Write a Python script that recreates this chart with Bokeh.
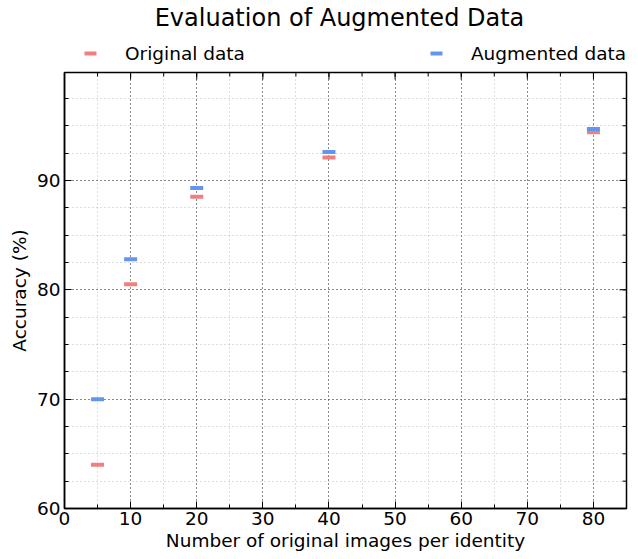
from bokeh.plotting import figure
from bokeh.models import (ColumnDataSource, FixedTicker, Range1d, Legend,
                          LegendItem, Label)
from bokeh.layouts import column
from bokeh.embed import file_html
from bokeh.resources import INLINE

# ---- data ----
images_per_identity = [5, 10, 20, 40, 80]
original_acc = [64.0, 80.5, 88.5, 92.1, 94.4]
augmented_acc = [70.0, 82.8, 89.3, 92.6, 94.7]

x_ticks = [0, 10, 20, 30, 40, 50, 60, 70, 80]
x_minor = [0, 5, 10, 15, 20, 25, 30, 35, 40, 45, 50, 55, 60, 65, 70, 75, 80, 85]
y_ticks = [60, 70, 80, 90]
y_minor = [60, 62.5, 65, 67.5, 70, 72.5, 75, 77.5, 80, 82.5, 85, 87.5, 90,
           92.5, 95, 97.5]

title_text = "Evaluation of Augmented Data"
FONT = "DejaVu Sans"
FS = "18.5px"
RED = "#F08080"
BLUE = "#6495ED"

X0, X1 = 0, 85
Y0, Y1 = 60, 99.87
LEFT, RIGHT = 64, 12
FRAME_W, FRAME_H = 638 - LEFT - RIGHT, 436
HEAD_H = 70

src_o = ColumnDataSource(dict(x=images_per_identity, y=original_acc))
src_a = ColumnDataSource(dict(x=images_per_identity, y=augmented_acc))

# ---------- header: title + legend ----------
head = figure(width=638, height=HEAD_H, output_backend="svg",
              toolbar_location=None, x_range=Range1d(LEFT, 638 - RIGHT),
              y_range=Range1d(0, HEAD_H), min_border=0,
              min_border_left=LEFT, min_border_right=RIGHT,
              outline_line_color=None)
head.axis.visible = False
head.grid.visible = False
head.background_fill_color = "white"
head.border_fill_color = "white"

head.add_layout(Label(x=339, y=HEAD_H - 17, text=title_text,
                      text_align="center", text_baseline="middle",
                      text_font=FONT, text_font_size="24px",
                      text_color="black"))

h_o = head.scatter("x", "y", source=src_o, marker="dash",
                   size=13, line_width=4, line_color=RED, visible=False)
h_a = head.scatter("x", "y", source=src_a, marker="dash",
                   size=13, line_width=4, line_color=BLUE, visible=False)
legend = Legend(items=[LegendItem(label="Original data", renderers=[h_o]),
                       LegendItem(label="Augmented data", renderers=[h_a])],
                orientation="horizontal", location=(75 - LEFT, 2),
                glyph_width=30, glyph_height=30, label_standoff=20,
                spacing=176, padding=0, margin=0,
                border_line_alpha=0, background_fill_alpha=0,
                label_text_font=FONT, label_text_font_size=FS,
                label_text_color="black")
head.add_layout(legend, "center")

# ---------- main plot ----------
p = figure(width=638, height=559 - HEAD_H, output_backend="svg",
           toolbar_location=None,
           x_range=Range1d(X0, X1), y_range=Range1d(Y0, Y1),
           min_border_left=LEFT, min_border_right=RIGHT, min_border_top=2,
           min_border_bottom=51)
p.background_fill_color = "white"
p.border_fill_color = "white"
p.outline_line_color = "black"
p.outline_line_width = 1.5

xt = FixedTicker(ticks=x_ticks, minor_ticks=x_minor)
yt = FixedTicker(ticks=y_ticks, minor_ticks=y_minor)
p.xaxis.ticker = xt
p.yaxis.ticker = yt

for ax in (p.xaxis[0], p.yaxis[0]):
    ax.axis_line_color = "black"
    ax.axis_line_width = 1.5
    ax.major_tick_in = 7
    ax.major_tick_out = 0
    ax.minor_tick_in = 4
    ax.minor_tick_out = 0
    ax.major_tick_line_color = "black"
    ax.minor_tick_line_color = "black"
    ax.major_label_text_font = FONT
    ax.major_label_text_font_size = FS
    ax.major_label_text_color = "black"
    ax.axis_label_text_font = FONT
    ax.axis_label_text_font_size = FS
    ax.axis_label_text_font_style = "normal"
    ax.axis_label_text_color = "black"

xa = p.xaxis[0]
ya = p.yaxis[0]
xa.axis_label = "Number of original images per identity"
ya.axis_label = "Accuracy (%)"
xa.major_label_standoff = 3
ya.major_label_standoff = 4
xa.axis_label_standoff = 2
ya.axis_label_standoff = 4

for g in (p.xgrid[0], p.ygrid[0]):
    g.grid_line_color = "black"
    g.grid_line_alpha = 0.75
    g.grid_line_dash = "1 3"
    g.grid_line_width = 1
    g.minor_grid_line_color = "#aaaaaa"
    g.minor_grid_line_alpha = 0.8
    g.minor_grid_line_dash = "1 3"
    g.minor_grid_line_width = 1

# inward ticks on the top and right spines (mirroring the axis ticks)
dx = (X1 - X0) / FRAME_W
dy = (Y1 - Y0) / FRAME_H
p.segment(x0=x_ticks, x1=x_ticks, y0=[Y1] * len(x_ticks),
          y1=[Y1 - 7 * dy] * len(x_ticks), line_color="black", line_width=1)
p.segment(x0=x_minor, x1=x_minor, y0=[Y1] * len(x_minor),
          y1=[Y1 - 4 * dy] * len(x_minor), line_color="black", line_width=1)
p.segment(x0=[X1] * len(y_ticks), x1=[X1 - 7 * dx] * len(y_ticks),
          y0=y_ticks, y1=y_ticks, line_color="black", line_width=1)
p.segment(x0=[X1] * len(y_minor), x1=[X1 - 4 * dx] * len(y_minor),
          y0=y_minor, y1=y_minor, line_color="black", line_width=1)

p.scatter("x", "y", source=src_o, marker="dash", size=13, line_width=4,
          line_color=RED)
p.scatter("x", "y", source=src_a, marker="dash", size=13, line_width=4,
          line_color=BLUE)

layout = column(head, p, spacing=0)
open("out.html", "w").write(file_html(layout, INLINE))
